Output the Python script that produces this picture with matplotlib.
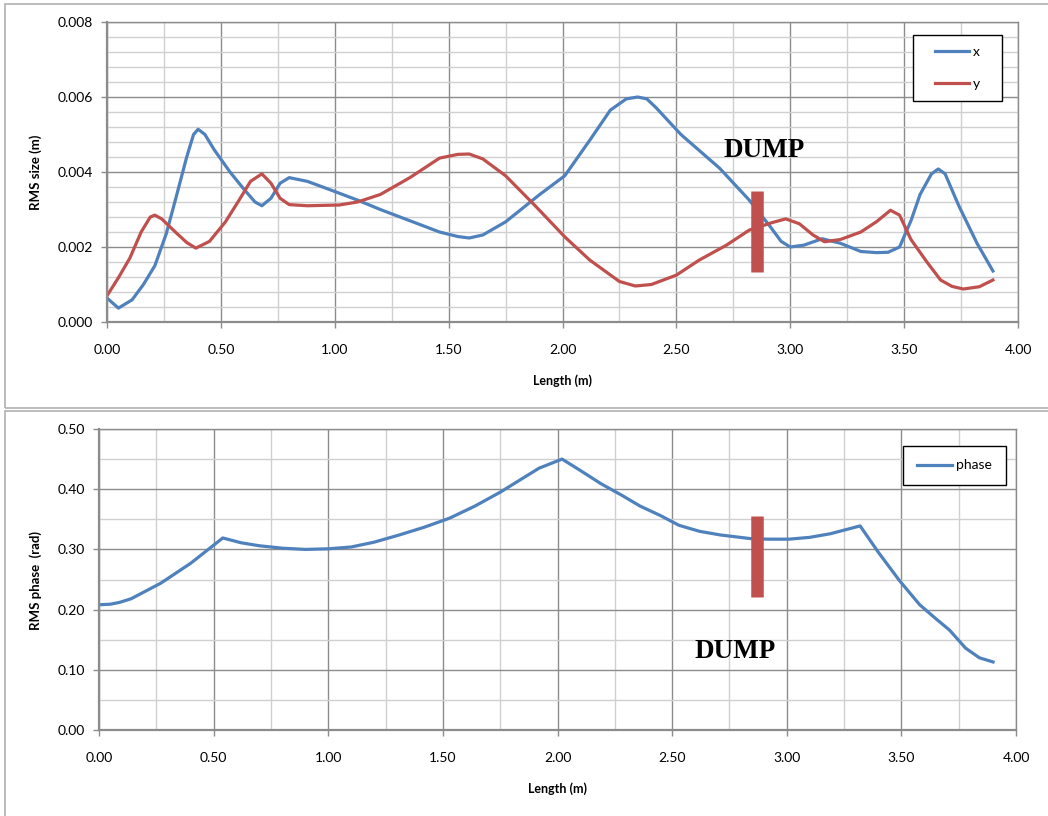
import numpy as np
import matplotlib.pyplot as plt
from matplotlib.patches import Rectangle
from matplotlib.ticker import MultipleLocator, FormatStrFormatter

# RMS size vs length
size_x_len = [0.00, 0.05, 0.11, 0.16, 0.21, 0.26, 0.30, 0.35, 0.38, 0.40, 0.43, 0.47, 0.54, 0.60, 0.65, 0.68,
              0.72, 0.76, 0.80, 0.88, 1.00, 1.10, 1.20, 1.33, 1.46, 1.54, 1.59, 1.65, 1.75, 1.90, 2.01, 2.12,
              2.21, 2.28, 2.33, 2.37, 2.41, 2.52, 2.69, 2.82, 2.91, 2.96, 3.00, 3.06, 3.14, 3.22, 3.31, 3.38,
              3.43, 3.48, 3.53, 3.57, 3.62, 3.65, 3.68, 3.74, 3.82, 3.89]
size_x = [0.00064, 0.00037, 0.00059, 0.00100, 0.00150, 0.00235, 0.00325, 0.00440, 0.00500, 0.00514, 0.00500,
          0.00460, 0.00400, 0.00355, 0.00320, 0.00310, 0.00330, 0.00370, 0.00385, 0.00375, 0.00348, 0.00325,
          0.00300, 0.00270, 0.00240, 0.00228, 0.00224, 0.00232, 0.00267, 0.00340, 0.00390, 0.00485, 0.00565,
          0.00595, 0.00600, 0.00595, 0.00572, 0.00500, 0.00410, 0.00325, 0.00256, 0.00215, 0.00200, 0.00205,
          0.00222, 0.00210, 0.00188, 0.00185, 0.00186, 0.00200, 0.00270, 0.00340, 0.00395, 0.00408, 0.00395,
          0.00310, 0.00210, 0.00136]

size_y_len = [0.00, 0.05, 0.10, 0.15, 0.19, 0.21, 0.24, 0.30, 0.35, 0.39, 0.45, 0.52, 0.58, 0.63, 0.68, 0.72,
              0.76, 0.80, 0.88, 1.02, 1.10, 1.20, 1.33, 1.46, 1.54, 1.59, 1.65, 1.75, 1.88, 2.01, 2.12, 2.25,
              2.32, 2.39, 2.50, 2.60, 2.72, 2.82, 2.92, 2.98, 3.04, 3.10, 3.15, 3.22, 3.31, 3.38, 3.44, 3.48,
              3.53, 3.60, 3.66, 3.71, 3.76, 3.83, 3.89]
size_y = [0.00070, 0.00118, 0.00170, 0.00240, 0.00280, 0.00285, 0.00275, 0.00240, 0.00212, 0.00197, 0.00215,
          0.00267, 0.00325, 0.00375, 0.00395, 0.00370, 0.00330, 0.00313, 0.00310, 0.00312, 0.00320, 0.00340,
          0.00385, 0.00437, 0.00447, 0.00448, 0.00435, 0.00390, 0.00310, 0.00227, 0.00165, 0.00108, 0.00096,
          0.00100, 0.00125, 0.00165, 0.00205, 0.00245, 0.00265, 0.00275, 0.00262, 0.00232, 0.00214, 0.00220,
          0.00240, 0.00268, 0.00298, 0.00285, 0.00220, 0.00160, 0.00112, 0.00095, 0.00088, 0.00094, 0.00112]

# RMS phase vs length
phase_len = [0.00, 0.05, 0.09, 0.14, 0.27, 0.40, 0.54, 0.62, 0.70, 0.80, 0.90, 1.00, 1.10, 1.20, 1.31, 1.42,
             1.53, 1.64, 1.75, 1.92, 2.02, 2.10, 2.19, 2.28, 2.36, 2.45, 2.53, 2.62, 2.71, 2.84, 2.92, 3.01,
             3.10, 3.19, 3.32, 3.40, 3.49, 3.58, 3.65, 3.71, 3.78, 3.84, 3.90]
phase = [0.208, 0.209, 0.212, 0.218, 0.244, 0.277, 0.319, 0.311, 0.306, 0.302, 0.300, 0.301, 0.304, 0.312,
         0.324, 0.337, 0.352, 0.372, 0.395, 0.435, 0.450, 0.431, 0.409, 0.390, 0.372, 0.356, 0.340, 0.330,
         0.324, 0.318, 0.317, 0.317, 0.320, 0.326, 0.339, 0.295, 0.249, 0.208, 0.185, 0.166, 0.136, 0.120, 0.113]

# dump marker (bar from/to)
dump_pos_top = 2.854
dump_top = [0.00133, 0.0035]
dump_pos_bot = 2.87
dump_bot = [0.221, 0.355]

blue = '#4F81BD'
red = '#C0504D'
major_c = '#8C8C8C'
minor_c = '#D0D0D0'

plt.rcParams['font.family'] = ['Lato', 'DejaVu Sans']

fig = plt.figure(figsize=(10.48, 8.16), dpi=100)

# chart frames
fig.patches.append(Rectangle((5/1048, 0.5), 1.1, 0.495, transform=fig.transFigure,
                             fill=False, edgecolor='#B0B0B0', lw=1.2))
fig.patches.append(Rectangle((5/1048, -0.05), 1.1, 0.5463, transform=fig.transFigure,
                             fill=False, edgecolor='#B0B0B0', lw=1.2))

ax1 = fig.add_axes([107/1048, 1 - 322/816, 911/1048, 300/816])
ax2 = fig.add_axes([99/1048, 1 - 730/816, 917/1048, 301/816])


def style_axes(ax, ymax, ymajor, yminor, fmt):
    ax.set_xlim(0, 4)
    ax.set_ylim(0, ymax)
    ax.xaxis.set_major_locator(MultipleLocator(0.5))
    ax.xaxis.set_minor_locator(MultipleLocator(0.25))
    ax.yaxis.set_major_locator(MultipleLocator(ymajor))
    ax.yaxis.set_minor_locator(MultipleLocator(yminor))
    ax.xaxis.set_major_formatter(FormatStrFormatter('%.2f'))
    ax.yaxis.set_major_formatter(FormatStrFormatter(fmt))
    ax.grid(which='minor', color=minor_c, lw=1.0)
    ax.grid(which='major', color=major_c, lw=1.0)
    ax.set_axisbelow(True)
    for s in ['top', 'right']:
        ax.spines[s].set_color(major_c)
        ax.spines[s].set_linewidth(1.0)
    for s in ['left', 'bottom']:
        ax.spines[s].set_color(major_c)
        ax.spines[s].set_linewidth(1.6)
    ax.tick_params(which='major', direction='out', length=4, width=1, color=major_c,
                   labelsize=10, labelcolor='black')
    ax.tick_params(which='minor', length=0)
    ax.tick_params(axis='x', which='major', pad=12)
    ax.tick_params(axis='y', which='major', pad=6)


def boxed_legend(ax, x0, y0, w, h, **kw):
    ax.add_patch(Rectangle((x0, y0), w, h, transform=ax.transAxes, facecolor='white',
                           edgecolor='black', lw=1.0, zorder=4.5, clip_on=False))
    ax.legend(loc='center', bbox_to_anchor=(x0 + w / 2, y0 + h / 2), frameon=False,
              fontsize=10, handlelength=2.45, handletextpad=0.3, borderaxespad=0, **kw)


# top chart
style_axes(ax1, 0.008, 0.002, 0.0004, '%.3f')
ax1.plot(size_x_len, size_x, color=blue, lw=2.3, label='x', solid_joinstyle='round')
ax1.plot(size_y_len, size_y, color=red, lw=2.3, label='y', solid_joinstyle='round')
ax1.vlines(dump_pos_top, dump_top[0], dump_top[1], color=red, lw=9)
ax1.text(2.885, 0.00456, 'DUMP', family='Liberation Serif', weight='bold', fontsize=19.5,
         ha='center', va='center')
ax1.set_xlabel('Length (m)', fontsize=9, weight='bold')
ax1.xaxis.set_label_coords(0.4995, -0.173)
ax1.set_ylabel('RMS size (m)', fontsize=9.5, weight='bold')
ax1.yaxis.set_label_coords(-0.0713, 0.5)
boxed_legend(ax1, 0.8847, 0.7367, 0.0977, 0.22, labelspacing=1.45)

# bottom chart
style_axes(ax2, 0.5, 0.1, 0.05, '%.2f')
ax2.plot(phase_len, phase, color=blue, lw=2.3, label='phase', solid_joinstyle='round')
ax2.vlines(dump_pos_bot, dump_bot[0], dump_bot[1], color=red, lw=9)
ax2.text(2.774, 0.1296, 'DUMP', family='Liberation Serif', weight='bold', fontsize=19.5,
         ha='center', va='center')
ax2.set_xlabel('Length (m)', fontsize=9, weight='bold')
ax2.xaxis.set_label_coords(0.5, -0.173)
ax2.set_ylabel('RMS phase  (rad)', fontsize=9.5, weight='bold')
ax2.yaxis.set_label_coords(-0.0622, 0.498)
boxed_legend(ax2, 0.8768, 0.814, 0.1123, 0.1296)

fig.savefig('out.png', dpi=100)
